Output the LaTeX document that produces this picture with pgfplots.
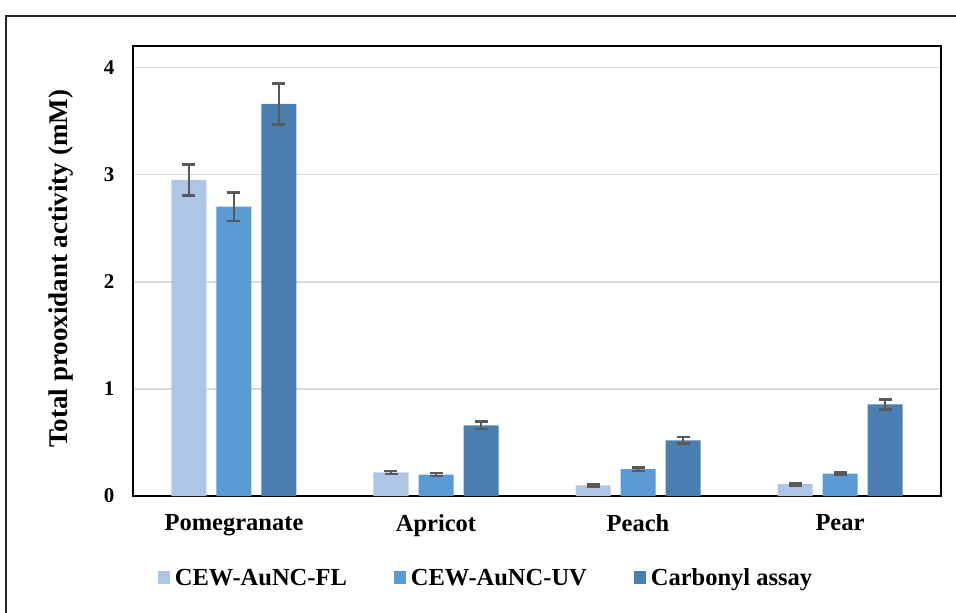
\documentclass[border=0pt]{standalone}
\usepackage{pgfplots}
\pgfplotsset{compat=1.18}
\usepackage{fontspec}
\setmainfont{Liberation Serif}
\definecolor{cFL}{HTML}{AEC6E6}
\definecolor{cUV}{HTML}{5B9BD5}
\definecolor{cCA}{HTML}{4A7EB1}
\definecolor{errc}{HTML}{595959}
\definecolor{gridc}{HTML}{D9D9D9}
\begin{document}
\begin{tikzpicture}
\begin{axis}[
  at={(0pt,0pt)}, anchor=south west,
  scale only axis, width=808pt, height=450pt,
  ybar=10pt, bar width=35pt,
  xmin=-0.5, xmax=3.5, ymin=0, ymax=4.2,
  xtick=data, xticklabels={Pomegranate,Apricot,Peach,Pear},
  ytick={0,1,2,3,4},
  major tick length=0pt,
  ymajorgrids, grid style={gridc, line width=1.8pt},
  axis line style={black, line width=2pt},
  /pgf/number format/assume math mode=true,
  yticklabel style={font=\fontsize{21}{24}\selectfont\bfseries, xshift=-15pt},
  xticklabel style={font=\fontsize{24.5}{28}\selectfont\bfseries, yshift=-15pt},
  ylabel={Total prooxidant activity (mM)},
  ylabel style={at={(axis description cs:-0.089,0.505)}, anchor=center, font=\fontsize{27}{30}\selectfont\bfseries},
  legend style={at={(0.437,-0.182)}, anchor=center, draw=none, fill=none, legend columns=3,
    font=\fontsize{24.5}{28}\selectfont\bfseries,
    /tikz/every even column/.append style={column sep=45pt},
    /tikz/every odd column/.append style={column sep=3pt}},
  legend image code/.code={\fill[#1] (0pt,-6pt) rectangle (12pt,7pt);},
  error bars/y dir=both, error bars/y explicit,
  error bars/error bar style={errc, line width=2.6pt},
  error bars/error mark options={rotate=90, errc, mark size=6.5pt, line width=2.6pt},
]
\addplot[fill=cFL, draw=none] coordinates {
  (0,2.95) +- (0,0.145)
  (1,0.22) +- (0,0.015)
  (2,0.10) +- (0,0.012)
  (3,0.11) +- (0,0.012)
};
\addplot[fill=cUV, draw=none] coordinates {
  (0,2.70) +- (0,0.135)
  (1,0.20) +- (0,0.015)
  (2,0.25) +- (0,0.015)
  (3,0.21) +- (0,0.012)
};
\addplot[fill=cCA, draw=none] coordinates {
  (0,3.66) +- (0,0.19)
  (1,0.66) +- (0,0.035)
  (2,0.52) +- (0,0.03)
  (3,0.855) +- (0,0.045)
};
\legend{CEW-AuNC-FL, CEW-AuNC-UV, Carbonyl assay}
\end{axis}
\draw[line width=2pt, black!85] (-127pt,-140pt) -- (-127pt,480pt) -- (850pt,480pt);
\pgfresetboundingbox
\useasboundingbox (-133pt,-117pt) rectangle (823pt,496pt);
\end{tikzpicture}
\end{document}
